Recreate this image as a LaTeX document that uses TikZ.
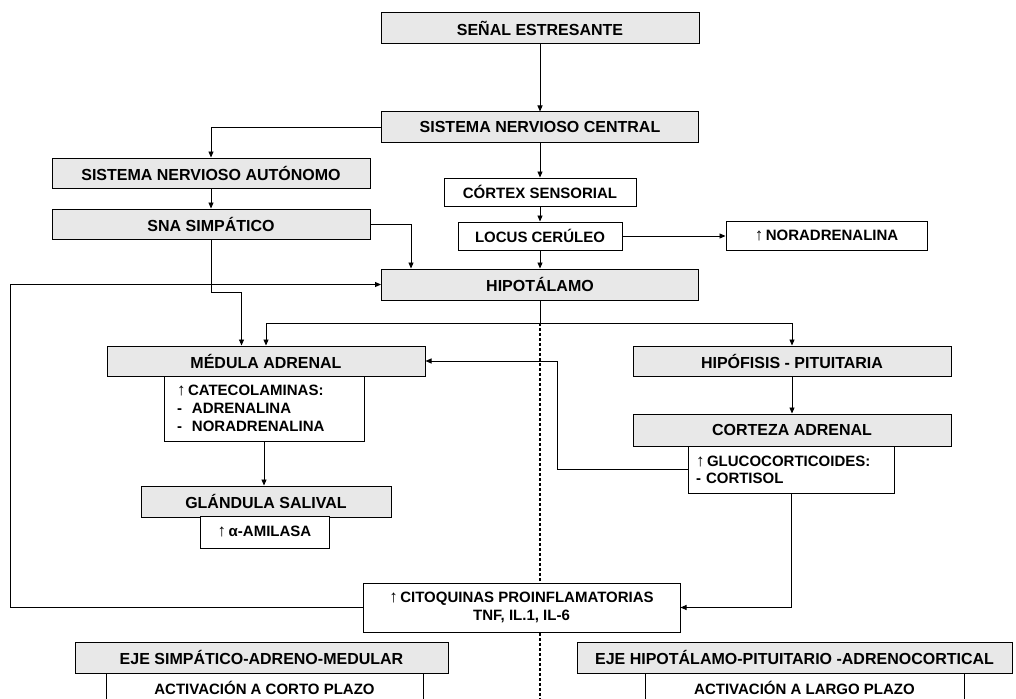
\documentclass[tikz,border=0pt]{standalone}
\usepackage{fontspec}
\setmainfont{Liberation Sans}
\usetikzlibrary{arrows.meta}
\newcommand\fTitle{\fontsize{16}{18}\selectfont\bfseries}
\newcommand\fBody{\fontsize{15}{18}\selectfont\bfseries}
\newcommand\upar{{\fontsize{17}{18}\selectfont\mdseries ↑}\,}
\begin{document}
\begin{tikzpicture}[x=1pt, y=-1pt,
  gbox/.style={draw=black, line width=1, fill=black!9, inner sep=0, font=\fTitle},
  wbox/.style={draw=black, line width=1, fill=white, inner sep=0, font=\fBody},
  link/.style={draw=black, line width=0.9},
  arr/.style={link, -{Triangle[length=6pt,width=5pt]}},
  divider/.style={draw=black, line width=2.2, dash pattern=on 2.6pt off 2.4pt}]
\useasboundingbox (0,0) rectangle (1016,698);
\fill[white] (0,0) rectangle (1016,698);

% branch point under the hypothalamus and the dotted divider
\coordinate (br) at (540,323);
\draw[divider] (br) -- (540,705);

% central chain
\node[gbox, minimum width=318, minimum height=31] (senal) at (540,28) {SEÑAL ESTRESANTE};
\node[gbox, minimum width=317, minimum height=30] (snc) at (540,127) {SISTEMA NERVIOSO CENTRAL};
\node[wbox, minimum width=192, minimum height=28] (cortex) at (540,192) {CÓRTEX SENSORIAL};
\node[wbox, minimum width=164, minimum height=28] (locus) at (540,236) {LOCUS CERÚLEO};
\node[wbox, minimum width=201, minimum height=29] (nora) at (826.5,236) {\upar NORADRENALINA};
\node[gbox, minimum width=317, minimum height=31] (hipo) at (540,284.5) {HIPOTÁLAMO};

% autonomic branch
\node[gbox, minimum width=318, minimum height=30] (sna) at (211,173) {SISTEMA NERVIOSO AUTÓNOMO};
\node[gbox, minimum width=318, minimum height=30] (simp) at (211,224) {SNA SIMPÁTICO};

% sympathetic-adrenomedullary side
\node[gbox, minimum width=318, minimum height=30] (medula) at (266,361) {MÉDULA ADRENAL};
\node[wbox, minimum width=200, minimum height=65, text width=174, align=left] (catecol) at (264,408.5)
  {\upar CATECOLAMINAS:\\ -\hspace{10pt}ADRENALINA\\ -\hspace{10pt}NORADRENALINA};
\node[gbox, minimum width=250, minimum height=31] (glandula) at (266,501.5) {GLÁNDULA SALIVAL};
\node[wbox, minimum width=129, minimum height=32] (amilasa) at (264.5,532) {\upar α-AMILASA};

% hypothalamic-pituitary-adrenal side
\node[gbox, minimum width=318, minimum height=30] (hipof) at (792,361) {HIPÓFISIS - PITUITARIA};
\node[gbox, minimum width=318, minimum height=32] (corteza) at (792,430) {CORTEZA ADRENAL};
\node[wbox, minimum width=206, minimum height=47, text width=190, align=left, font=\fontsize{15}{17}\selectfont\bfseries] (gluco) at (791,469.5)
  {\upar GLUCOCORTICOIDES:\\ - CORTISOL};

% cytokines
\node[wbox, minimum width=317, minimum height=49, align=center] (cito) at (521.5,607.5)
  {\upar CITOQUINAS PROINFLAMATORIAS\\ TNF, IL.1, IL-6};

% axis labels
\node[gbox, minimum width=373, minimum height=31] (ejes) at (261.5,657.5) {EJE SIMPÁTICO-ADRENO-MEDULAR};
\node[gbox, minimum width=435, minimum height=31] (ejeh) at (794.5,657.5) {EJE HIPOTÁLAMO-PITUITARIO -ADRENOCORTICAL};
\node[wbox, minimum width=317, minimum height=30] (actc) at (264.5,688) {ACTIVACIÓN A CORTO PLAZO};
\node[wbox, minimum width=319, minimum height=30] (actl) at (804.5,688) {ACTIVACIÓN A LARGO PLAZO};

% connectors
\draw[arr] (senal) -- (snc);
\draw[arr] (snc.west) -| (sna.north);
\draw[arr] (sna) -- (simp);
\draw[arr] (snc) -- (cortex);
\draw[arr] (cortex) -- (locus);
\draw[arr] (locus) -- (hipo);
\draw[arr] (locus) -- (nora);
\draw[arr] (simp.east) -| ([xshift=30pt]hipo.north west);
\draw[arr] (simp.south) -- ++(0,53) -| ([xshift=135pt]medula.north west);
\draw[arr] (cito.west) -- ++(-352,0) |- (hipo.west);
\draw[link] (hipo.south) -- (br);
\draw[arr] (br) -| (medula.north);
\draw[arr] (br) -| (hipof.north);
\draw[arr] (hipof) -- (corteza);
\draw[arr] (gluco.west) -- ++(-130,0) |- (medula.east);
\draw[arr] (gluco.south) |- (cito.east);
\draw[arr] (catecol.south) -- (catecol.south |- glandula.north);
\end{tikzpicture}
\end{document}
